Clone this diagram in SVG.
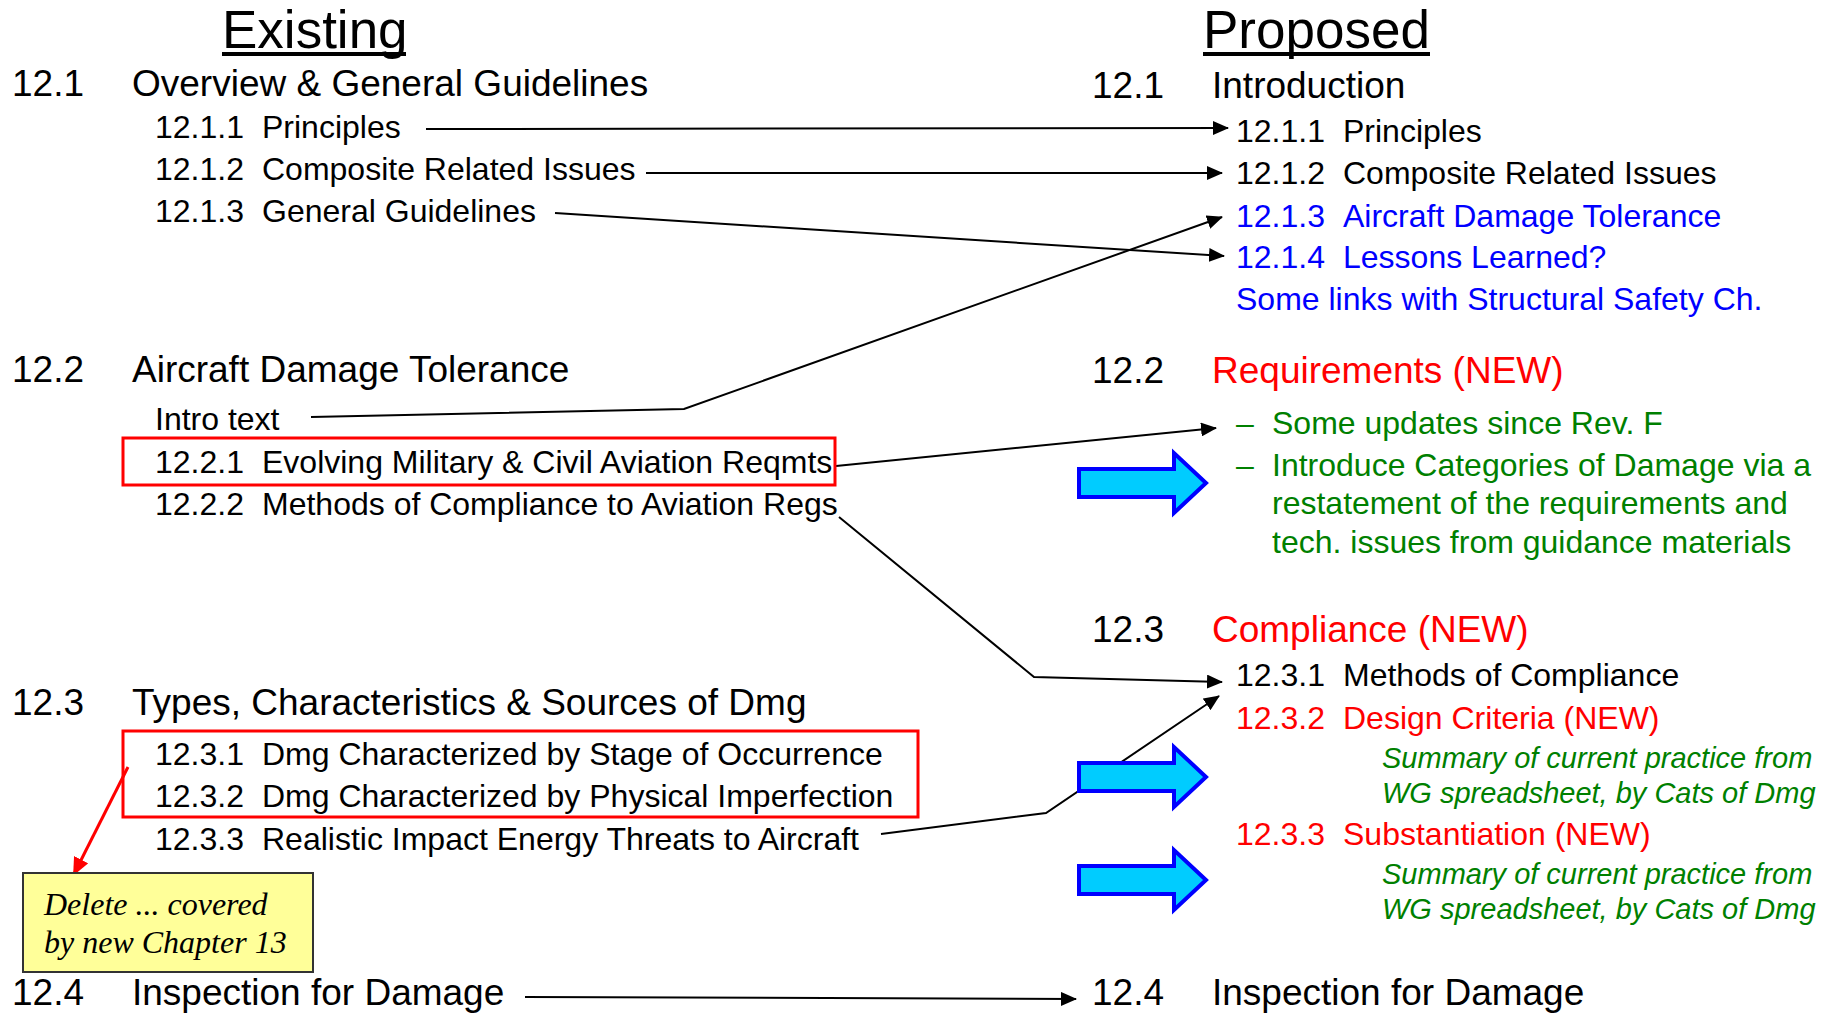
<svg xmlns="http://www.w3.org/2000/svg" width="1833" height="1016" viewBox="0 0 1833 1016">
<style>
text{font-family:"Liberation Sans",Arial,sans-serif;fill:#000}
.t{font-size:53px}
.h{font-size:37px}
.s{font-size:32px}
.g{fill:#008000}
.gi{fill:#008000;font-size:29px;font-style:italic}
.b{fill:#0000FF}
.r{fill:#FF0000}
.note{font-family:"Liberation Serif","Times New Roman",serif;font-style:italic;font-size:32px}
.ln{fill:none;stroke:#000;stroke-width:2}
.box{fill:none;stroke:#FF0000;stroke-width:3}
.blk{fill:#00CCFF;stroke:#0000FF;stroke-width:4;stroke-linejoin:miter}
</style>
<defs>
<marker id="ah" markerUnits="userSpaceOnUse" markerWidth="16" markerHeight="14" refX="15" refY="7" orient="auto">
<path d="M0,0 L16,7 L0,14 Z" fill="#000"/>
</marker>
<marker id="ahr" markerUnits="userSpaceOnUse" markerWidth="18" markerHeight="16" refX="16" refY="8" orient="auto">
<path d="M0,0 L18,8 L0,16 Z" fill="#FF0000"/>
</marker>
</defs>

<g id="connectors">
<line class="ln" x1="426" y1="129" x2="1228" y2="128" marker-end="url(#ah)"/>
<line class="ln" x1="646" y1="173" x2="1222" y2="173" marker-end="url(#ah)"/>
<line class="ln" x1="555" y1="213" x2="1224" y2="256" marker-end="url(#ah)"/>
<polyline class="ln" points="311,417 684,409 1222,217" marker-end="url(#ah)"/>
<line class="ln" x1="836" y1="466" x2="1216" y2="428" marker-end="url(#ah)"/>
<polyline class="ln" points="839,517 1034,677 1222,682" marker-end="url(#ah)"/>
<polyline class="ln" points="881,834 1046,813 1219,696" marker-end="url(#ah)"/>
<line class="ln" x1="525" y1="997" x2="1076" y2="999" marker-end="url(#ah)"/>
<line x1="128" y1="767" x2="74" y2="874" stroke="#FF0000" stroke-width="3" marker-end="url(#ahr)"/>
</g>

<g id="title-existing">
<text class="t" x="222" y="48">Existing</text>
<rect x="222" y="52" width="184" height="4" fill="#000"/>
</g>
<g id="title-proposed">
<text class="t" x="1203" y="48">Proposed</text>
<rect x="1203" y="52" width="227" height="4" fill="#000"/>
</g>

<g id="ex-12-1">
<text class="h" x="12" y="96">12.1</text>
<text class="h" x="132" y="96">Overview &amp; General Guidelines</text>
</g>
<g id="ex-12-1-1"><text class="s" x="155" y="138">12.1.1</text><text class="s" x="262" y="138">Principles</text></g>
<g id="ex-12-1-2"><text class="s" x="155" y="180">12.1.2</text><text class="s" x="262" y="180">Composite Related Issues</text></g>
<g id="ex-12-1-3"><text class="s" x="155" y="222">12.1.3</text><text class="s" x="262" y="222">General Guidelines</text></g>

<g id="ex-12-2">
<text class="h" x="12" y="382">12.2</text>
<text class="h" x="132" y="382">Aircraft Damage Tolerance</text>
</g>
<g id="ex-intro"><text class="s" x="155" y="430">Intro text</text></g>
<g id="ex-12-2-1">
<rect class="box" x="123" y="438" width="712" height="47"/>
<text class="s" x="155" y="473">12.2.1</text><text class="s" x="262" y="473">Evolving Military &amp; Civil Aviation Reqmts</text>
</g>
<g id="ex-12-2-2"><text class="s" x="155" y="515">12.2.2</text><text class="s" x="262" y="515">Methods of Compliance to Aviation Regs</text></g>

<g id="ex-12-3">
<text class="h" x="12" y="715">12.3</text>
<text class="h" x="132" y="715">Types, Characteristics &amp; Sources of Dmg</text>
</g>
<g id="ex-12-3-1-2">
<rect class="box" x="123" y="731" width="795" height="86"/>
<text class="s" x="155" y="765">12.3.1</text><text class="s" x="262" y="765">Dmg Characterized by Stage of Occurrence</text>
<text class="s" x="155" y="807">12.3.2</text><text class="s" x="262" y="807">Dmg Characterized by Physical Imperfection</text>
</g>
<g id="ex-12-3-3"><text class="s" x="155" y="850">12.3.3</text><text class="s" x="262" y="850">Realistic Impact Energy Threats to Aircraft</text></g>

<g id="note-delete">
<rect x="23" y="873" width="290" height="99" fill="#FFFF99" stroke="#333" stroke-width="2"/>
<text class="note" x="44" y="915">Delete ... covered</text>
<text class="note" x="44" y="953">by new Chapter 13</text>
</g>

<g id="ex-12-4">
<text class="h" x="12" y="1005">12.4</text>
<text class="h" x="132" y="1005">Inspection for Damage</text>
</g>

<g id="pr-12-1">
<text class="h" x="1092" y="98">12.1</text>
<text class="h" x="1212" y="98">Introduction</text>
</g>
<g id="pr-12-1-1"><text class="s" x="1236" y="142">12.1.1</text><text class="s" x="1343" y="142">Principles</text></g>
<g id="pr-12-1-2"><text class="s" x="1236" y="184">12.1.2</text><text class="s" x="1343" y="184">Composite Related Issues</text></g>
<g id="pr-12-1-3"><text class="s b" x="1236" y="227">12.1.3</text><text class="s b" x="1343" y="227">Aircraft Damage Tolerance</text></g>
<g id="pr-12-1-4"><text class="s b" x="1236" y="268">12.1.4</text><text class="s b" x="1343" y="268">Lessons Learned?</text></g>
<g id="pr-links"><text class="s b" x="1236" y="310">Some links with Structural Safety Ch.</text></g>

<g id="pr-12-2">
<text class="h" x="1092" y="383">12.2</text>
<text class="h r" x="1212" y="383">Requirements (NEW)</text>
</g>
<g id="pr-updates"><text class="s g" x="1236" y="434">–</text><text class="s g" x="1272" y="434">Some updates since Rev. F</text></g>
<g id="pr-categories">
<text class="s g" x="1236" y="476">–</text>
<text class="s g" x="1272" y="476">Introduce Categories of Damage via a</text>
<text class="s g" x="1272" y="514">restatement of the requirements and</text>
<text class="s g" x="1272" y="553">tech. issues from guidance materials</text>
</g>
<g id="pr-12-3">
<text class="h" x="1092" y="642">12.3</text>
<text class="h r" x="1212" y="642">Compliance (NEW)</text>
</g>
<g id="pr-12-3-1"><text class="s" x="1236" y="686">12.3.1</text><text class="s" x="1343" y="686">Methods of Compliance</text></g>
<g id="pr-12-3-2">
<text class="s r" x="1236" y="729">12.3.2</text><text class="s r" x="1343" y="729">Design Criteria (NEW)</text>
<text class="gi" x="1382" y="768">Summary of current practice from</text>
<text class="gi" x="1382" y="803">WG spreadsheet, by Cats of Dmg</text>
</g>
<g id="pr-12-3-3">
<text class="s r" x="1236" y="845">12.3.3</text><text class="s r" x="1343" y="845">Substantiation (NEW)</text>
<text class="gi" x="1382" y="884">Summary of current practice from</text>
<text class="gi" x="1382" y="919">WG spreadsheet, by Cats of Dmg</text>
</g>
<g id="pr-12-4">
<text class="h" x="1092" y="1005">12.4</text>
<text class="h" x="1212" y="1005">Inspection for Damage</text>
</g>

<g id="block-arrow-1"><polygon class="blk" points="1079,469 1174,469 1174,453 1206,483 1174,513 1174,497 1079,497"/></g>
<g id="block-arrow-2"><polygon class="blk" points="1079,763 1174,763 1174,747 1206,777 1174,807 1174,791 1079,791"/></g>
<g id="block-arrow-3"><polygon class="blk" points="1079,866 1174,866 1174,850 1206,880 1174,910 1174,894 1079,894"/></g>
</svg>
